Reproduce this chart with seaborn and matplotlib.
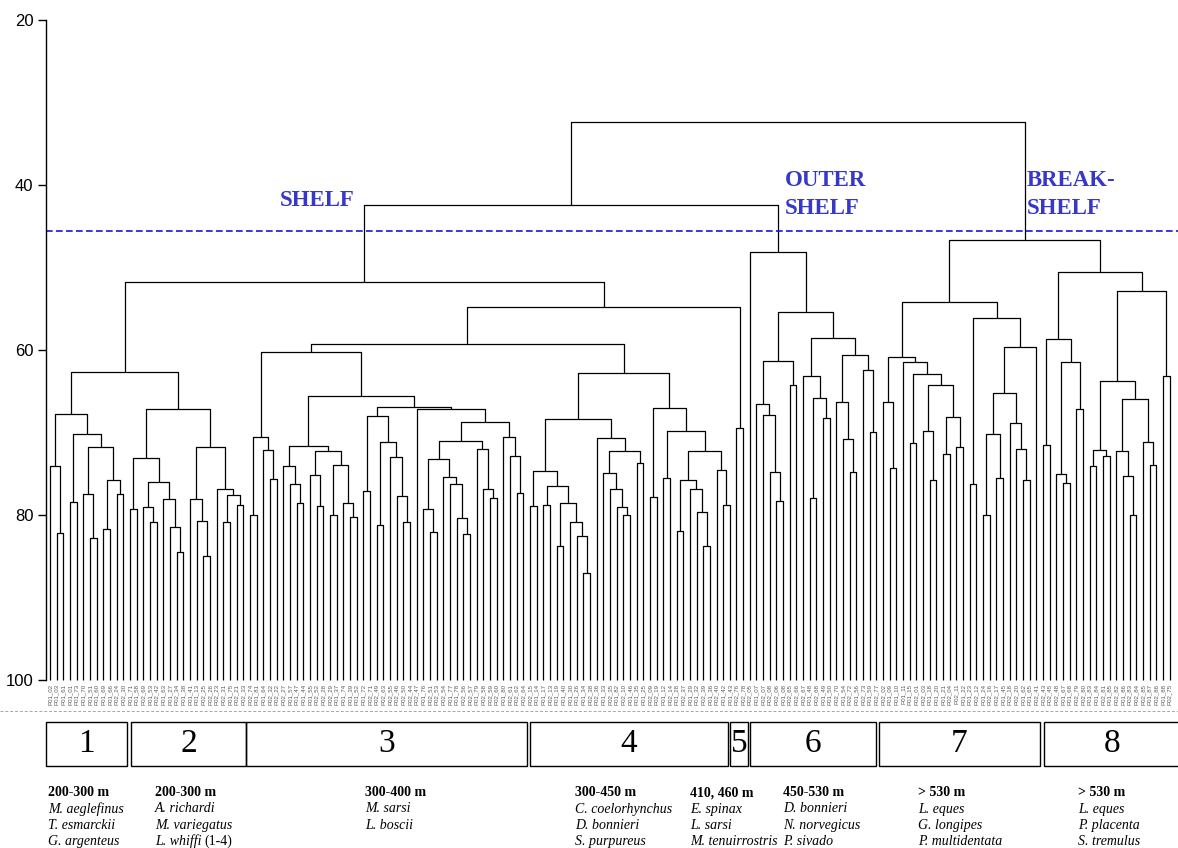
import matplotlib
matplotlib.use("Agg")
import matplotlib.pyplot as plt
from matplotlib.patches import Rectangle
from matplotlib.lines import Line2D
import seaborn as sns

# fusion trees of the eight station groups
# "*" = one station, "(a,b)h" = a and b joined at dissimilarity h
group1 = "((*,(*,*)82.2)74.0,((*,*)78.4,((*,(*,*)82.8)77.4,((*,*)81.7,(*,*)77.4)75.8)71.7)70.2)67.8"
group2 = ("(((*,*)79.3,((*,(*,*)80.9)79.0,(*,(*,(*,*)84.5)81.5)78.0)76.0)73.1,"
          "((*,(*,(*,*)85.0)80.7)78.1,(*,((*,*)80.8,(*,*)78.8)77.6)76.8)71.7)67.1")
group3 = ("(((*,*)80.0,(*,(*,*)75.6)72.1)70.6,"
          "(((*,(*,(*,*)78.5)76.2)74.0,((*,(*,*)78.9)75.2,((*,*)80.0,(*,(*,*)80.3)78.5)73.9)72.3)71.6,"
          "(((*,*)77.1,((*,*)81.2,(*,(*,(*,*)80.8)77.7)73.0)71.2)68.0,"
          "(*,((((*,(*,*)82.0)79.3,(*,(*,(*,(*,*)82.3)80.4)76.3)75.4)73.2,(*,(*,(*,*)77.9)76.8)72.0)71.0,"
          "(*,(*,(*,*)77.3)72.8)70.6)68.7)67.2)66.9)65.6)60.2")
group4 = ("((((*,*)78.9,((*,*)78.8,((*,*)83.7,(*,(*,(*,*)87.0)82.6)80.9)78.5)76.5)74.7,"
          "(*,((*,(*,(*,(*,*)80.0)79.0)76.8)74.9,(*,*)73.7)72.3)70.7)68.4,"
          "((*,*)77.8,((*,*)75.5,(((*,*)81.9,(*,(*,(*,*)83.7)79.6)76.9)75.8,(*,(*,*)78.8)74.5)72.2)69.8)67.0)62.8")
group5 = "(*,*)69.4"
group6 = ("(*,(((*,(*,(*,(*,*)78.3)74.8)67.9)66.5,(*,*)64.2)61.3,"
          "((*,((*,*)77.9,(*,*)68.3)65.8)63.2,((*,(*,(*,*)74.8)70.8)66.3,(*,(*,*)69.9)62.4)60.6)58.5)55.4)48.1")
group7 = ("(((*,(*,*)74.3)66.3,(*,((*,*)71.3,((*,(*,*)75.8)69.8,((*,*)72.6,(*,*)71.7)68.1)64.2)62.9)61.5)60.9,"
          "((*,*)76.3,((((*,*)80.0,(*,*)75.5)70.2,(*,(*,(*,*)75.8)72.0)68.8)65.2,*)59.6)56.1)54.2")
group8 = ("(((*,*)71.5,((*,(*,*)76.1)75.0,(*,*)67.2)61.4)58.7,"
          "((((*,*)74.0,(*,*)72.8)72.1,((*,(*,(*,*)80.0)75.3)72.2,(*,(*,*)73.9)71.2)65.9)63.8,(*,*)63.1)52.9)50.5")

# fusion levels between the groups
level_12 = 62.7
level_34 = 59.3
level_345 = 54.8
level_1_5 = 51.8
shelf_level = 42.4
break_level = 46.7
root_level = 32.4
cut_level = 45.6

yticks = [20, 40, 60, 80, 100]
group_names = ["1", "2", "3", "4", "5", "6", "7", "8"]
depths = ["200-300 m", "200-300 m", "300-400 m", "300-450 m", "410, 460 m",
          "450-530 m", "> 530 m", "> 530 m"]
species = [
    ["M. aeglefinus", "T. esmarckii", "G. argenteus"],
    ["A. richardi", "M. variegatus", "L. whiffi"],
    ["M. sarsi", "L. boscii"],
    ["C. coelorhynchus", "D. bonnieri", "S. purpureus"],
    ["E. spinax", "L. sarsi", "M. tenuirrostris"],
    ["D. bonnieri", "N. norvegicus", "P. sivado"],
    ["L. eques", "G. longipes", "P. multidentata"],
    ["L. eques", "P. placenta", "S. tremulus"],
]
leaf_labels = [
    "P01_02", "P01_03", "P01_61", "P01_01", "P01_73", "P01_70", "P01_51", "P01_60", "P01_69", "P01_66",
    "P02_24", "P02_30", "P01_71", "P01_58", "P02_69", "P01_53", "P02_42", "P01_63", "P01_27", "P02_34",
    "P01_38", "P01_41", "P01_13", "P02_25", "P02_26", "P02_23", "P02_31", "P01_75", "P02_21", "P02_33",
    "P02_74", "P01_81", "P01_64", "P02_32", "P02_22", "P02_27", "P01_57", "P01_47", "P01_44", "P01_55",
    "P02_52", "P02_28", "P02_29", "P01_37", "P01_74", "P01_39", "P01_52", "P01_72", "P02_71", "P02_49",
    "P02_63", "P02_55", "P02_46", "P02_50", "P02_44", "P02_47", "P01_76", "P02_51", "P02_53", "P02_54",
    "P01_77", "P01_78", "P02_56", "P02_57", "P01_79", "P02_58", "P02_59", "P02_60", "P01_80", "P02_61",
    "P02_62", "P02_64", "P02_15", "P01_14", "P01_17", "P02_13", "P01_19", "P01_40", "P01_30", "P01_26",
    "P01_34", "P02_38", "P02_36", "P01_33", "P02_35", "P01_82", "P02_10", "P01_46", "P01_35", "P01_25",
    "P02_09", "P02_19", "P01_12", "P02_14", "P01_28", "P02_37", "P01_29", "P01_32", "P02_39", "P01_36",
    "P02_40", "P01_42", "P01_43", "P02_76", "P02_78", "P02_05", "P01_07", "P02_07", "P02_08", "P02_06",
    "P01_08", "P02_65", "P02_66", "P02_67", "P01_48", "P02_68", "P01_49", "P01_50", "P02_70", "P01_54",
    "P02_72", "P01_56", "P02_73", "P01_59", "P02_77", "P02_02", "P01_09", "P01_10", "P01_11", "P01_15",
    "P02_01", "P02_03", "P01_18", "P01_20", "P01_21", "P02_04", "P02_11", "P01_22", "P01_23", "P02_12",
    "P01_24", "P02_16", "P02_17", "P01_45", "P02_18", "P02_20", "P01_62", "P01_65", "P02_41", "P02_43",
    "P02_45", "P02_48", "P01_67", "P01_68", "P02_79", "P02_80", "P01_83", "P01_84", "P02_81", "P01_85",
    "P02_82", "P01_86", "P02_83", "P02_84", "P02_85", "P01_87", "P02_86", "P01_88", "P02_75",
]

groups = [group1, group2, group3, group4, group5, group6, group7, group8]
a = f"({group1},{group2}){level_12}"
b = f"(({group3},{group4}){level_34},{group5}){level_345}"
c = f"(({a},{b}){level_1_5},{group6}){shelf_level}"
d = f"({group7},{group8}){break_level}"
tree = f"({c},{d}){root_level}"

segments = []
counter = [0]


def parse(s, i):
    # returns x position, height, next index
    if s[i] == "*":
        x = counter[0]
        counter[0] += 1
        return x, 100.0, i + 1
    xa, ha, i = parse(s, i + 1)
    xb, hb, i = parse(s, i + 1)
    j = i + 1
    while j < len(s) and (s[j].isdigit() or s[j] == "."):
        j += 1
    h = float(s[i + 1:j])
    segments.append(([xa, xa, xb, xb], [ha, h, h, hb]))
    return (xa + xb) / 2, h, j


parse(tree, 0)

sns.set_theme(style="ticks")
plt.rcParams["font.family"] = ["Liberation Sans", "DejaVu Sans"]
plt.rcParams["text.color"] = "black"

W, H = 1178, 848
step = 6.665  # pixels between two stations
fig = plt.figure(figsize=(W / 100, H / 100), dpi=100)
fig.patch.set_facecolor("white")


def fx(px):
    return px / W


def fy(py):
    return 1 - py / H


x0 = -4 / step
x1 = x0 + (W - 46) / step
ax = fig.add_axes([fx(46), fy(680), (W - 46) / W, 660 / H])
ax.set_xlim(x0, x1)
ax.set_ylim(100, 20)

for xs, ys in segments:
    ax.plot(xs, ys, color="black", lw=0.9, solid_capstyle="butt", clip_on=False)

ax.plot([x0, x1], [cut_level, cut_level], color="#1414e6", lw=1.2, dashes=(4, 2), clip_on=False)

for k, lab in enumerate(leaf_labels):
    ax.text(k, 100.45, lab, rotation=90, ha="center", va="top", fontsize=4.4, color="0.35")

sns.despine(ax=ax, bottom=True)
ax.spines["left"].set_color("black")
ax.spines["left"].set_linewidth(1)
ax.set_xticks([])
ax.set_yticks(yticks)
ax.tick_params(axis="y", left=True, direction="out", length=6, width=1, color="black",
               labelsize=12, pad=3, labelcolor="black")
ax.set_facecolor("white")

blue = "#3737c8"
serif_b = dict(family="Liberation Serif", fontweight="bold", color=blue, fontsize=16.5, va="center")
fig.text(fx(280), fy(201), "SHELF", ha="left", **serif_b)
fig.text(fx(785), fy(180), "OUTER", ha="left", **serif_b)
fig.text(fx(785), fy(209), "SHELF", ha="left", **serif_b)
fig.text(fx(1027), fy(180), "BREAK-", ha="left", **serif_b)
fig.text(fx(1027), fy(209), "SHELF", ha="left", **serif_b)

fig.add_artist(Line2D([0, 1], [fy(711), fy(711)], color="0.65", lw=0.7, ls=(0, (3, 2))))

# group boxes, drawn in pixel units of the figure
box_px = [(46, 127), (131, 246), (246, 527), (530, 728), (730, 748), (750, 876), (879, 1040), (1044, 1200)]
for gi, (l, r) in enumerate(box_px):
    fig.add_artist(Rectangle((fx(l), fy(766)), (r - l) / W, 44 / H, fill=False, ec="black", lw=1,
                             transform=fig.transFigure))
    mid = (l + min(r, W + 2)) / 2
    fig.text(fx(mid), fy(744), group_names[gi], ha="center", va="center", fontsize=24,
             family="Liberation Serif", color="black")

text_x = [48, 155, 365, 575, 690, 783, 918, 1078]
row_y = [793, 809, 825.5, 841.5]
for gi in range(len(groups)):
    fig.text(fx(text_x[gi]), fy(row_y[0]), depths[gi], ha="left", va="center", fontsize=10,
             family="Liberation Serif", fontweight="bold")
    for r, sp in enumerate(species[gi]):
        t = fig.text(fx(text_x[gi]), fy(row_y[r + 1]), sp, ha="left", va="center", fontsize=10,
                     family="Liberation Serif", style="italic")
        if sp == "L. whiffi":
            ax.annotate("(1-4)", xy=(1, 0.5), xycoords=t, xytext=(2, 0), textcoords="offset points",
                        ha="left", va="center", fontsize=10, family="Liberation Serif",
                        annotation_clip=False)

fig.savefig("out.png", dpi=100, facecolor="white")
